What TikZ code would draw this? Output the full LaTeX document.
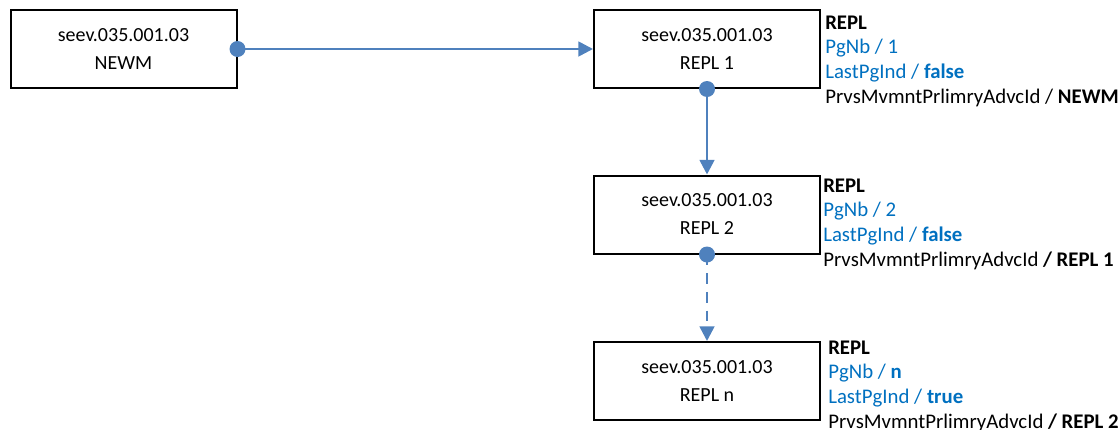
\documentclass[tikz,border=0pt]{standalone}
\usepackage{fontspec}
\setmainfont{Carlito}
\usetikzlibrary{arrows.meta}
\definecolor{lineblue}{RGB}{79,129,189}
\definecolor{textblue}{RGB}{0,112,192}
\tikzset{
  msgbox/.style={draw=black,line width=1.5pt,minimum width=169.5pt,minimum height=58.5pt,align=center,inner sep=0pt,font=\fontsize{15}{21}\selectfont},
  flow/.style={draw=lineblue,line width=2pt,-{Triangle[length=11pt,width=11pt]}},
  pindot/.style={fill=lineblue},
  info/.style={anchor=base west,align=left,inner sep=0pt,font=\fontsize{15.6}{18.5}\selectfont},
}
\newcommand{\tb}[1]{\textcolor{textblue}{#1}}
\begin{document}
\begin{tikzpicture}[x=0.75pt,y=-0.75pt]
\useasboundingbox (0,0) rectangle (1118,429);
% message boxes
\node[msgbox] (newm) at (123.5,49) {seev.035.001.03\\NEWM};
\node[msgbox] (repl1) at (707,49) {seev.035.001.03\\REPL 1};
\node[msgbox] (repl2) at (707,214.5) {seev.035.001.03\\REPL 2};
\node[msgbox] (repln) at (707,381) {seev.035.001.03\\REPL n};
% connectors
\draw[flow] (newm.east) -- (repl1.west);
\draw[flow] (repl1.south) -- (repl2.north);
\draw[flow,dash pattern=on 8pt off 6pt] (repl2.south) -- (repln.north);
\fill[pindot] (newm.east) circle (6pt);
\fill[pindot] (repl1.south) circle (6pt);
\fill[pindot] (repl2.south) circle (6pt);
% page details (anchored on the last line)
\node[info] (info1) at (825,103) {\textbf{REPL}\\\tb{PgNb / 1}\\\tb{LastPgInd / \textbf{false}}\\PrvsMvmntPrlimryAdvcId / \textbf{NEWM}};
\node[info] (info2) at (823,266) {\textbf{REPL}\\\tb{PgNb / 2}\\\tb{LastPgInd / \textbf{false}}\\PrvsMvmntPrlimryAdvcId \textbf{/ REPL 1}};
\node[info] (infon) at (828,428) {\textbf{REPL}\\\tb{PgNb / \textbf{n}}\\\tb{LastPgInd / \textbf{true}}\\PrvsMvmntPrlimryAdvcId \textbf{/ REPL 2}};
\end{tikzpicture}
\end{document}
